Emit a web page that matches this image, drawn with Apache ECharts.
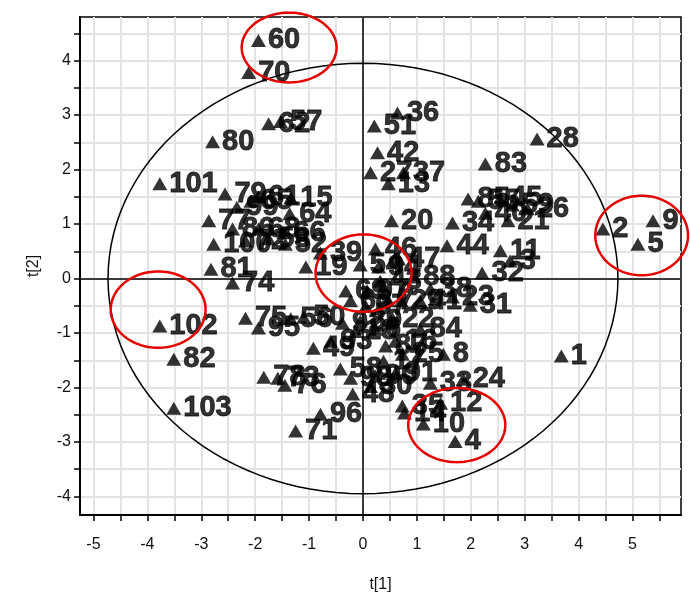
<!DOCTYPE html>
<html>
<head>
<meta charset="utf-8">
<script src="https://cdn.jsdelivr.net/npm/echarts@6/dist/echarts.min.js"></script>
<style>
  html, body { margin: 0; padding: 0; background: #fff; }
  #chart { width: 690px; height: 600px; }
</style>
</head>
<body>
<div id="chart"></div>
<script>
// sample ids, t[1] and t[2] scores (1..103)
const ids = [
  '1','2','3','4','5','6','7','8','9','10','11','12','13','14','15','16','17','18','19','20',
  '21','22','23','24','25','26','27','28','29','30','31','32','33','34','35','36','37','38','39','40',
  '41','42','43','44','45','46','47','48','49','50','51','52','53','54','55','56','57','58','59','60',
  '61','62','63','64','65','66','67','68','69','70','71','72','73','74','75','76','77','78','79','80',
  '81','82','83','84','85','86','87','88','89','90','91','92','93','94','95','96','97','98','99','100',
  '101','102','103'
];
const t1 = [
  3.68, 4.45, 2.73, 1.71, 5.10, 0.23, 0.47, 1.49, 5.38, 1.12,
  2.55, 1.44, 0.47, 0.77, -1.34, 0.60, 0.38, -0.14, -1.06, 0.53,
  2.69, 0.55, 1.66, 1.86, 0.73, 3.05, 0.14, 3.23, 0.71, 0.14,
  1.99, 2.21, 1.25, 1.66, 0.73, 0.64, 0.75, 1.25, -0.79, 2.27,
  1.06, 0.27, 0.32, 1.56, 2.55, 0.23, 0.66, -0.19, -0.92, -1.10,
  0.21, -1.44, -1.75, -0.05, 2.14, -1.34, -1.53, -0.42, 2.77, -1.94,
  -1.94, -1.75, -0.23, -1.36, -2.08, -1.47, 0.05, -1.94, -0.32, -2.12,
  -1.25, -2.18, -1.58, -2.42, -2.18, -1.45, -2.86, -1.84, -2.56, -2.79,
  -2.82, -3.51, 2.27, 1.06, 1.95, -2.42, 0.42, 0.94, -0.05, 0.23,
  0.60, -0.38, -0.60, 0.29, -1.94, -0.79, 0.08, -0.23, -2.34, -2.77,
  -3.77, -3.77, -3.51
];
const t2 = [
  -1.42, 0.91, 0.32, -2.99, 0.63, -0.93, -0.41, -1.39, 1.06, -2.67,
  0.51, -2.29, 1.74, -2.47, 1.48, -1.15, -1.52, -0.97, 0.21, 1.06,
  1.06, -0.74, -0.34, -1.85, -1.39, 1.28, 1.94, 2.56, -0.41, -1.98,
  -0.49, 0.10, -1.92, 1.02, -2.34, 3.04, 1.94, -0.19, 0.47, 1.20,
  -0.41, 2.31, -0.05, 0.60, 1.48, 0.54, 0.36, -2.12, -1.28, -0.71,
  2.80, 0.63, 0.73, 0.25, 1.42, -0.74, 2.88, -1.66, 1.35, 4.37,
  1.50, 2.84, -0.41, 1.19, 1.42, 0.84, -0.51, 0.91, -0.23, 3.78,
  -2.80, 0.69, -1.83, -0.08, -0.73, -1.96, 1.06, -1.81, 1.55, 2.51,
  0.17, -1.48, 2.10, -0.93, 1.46, 0.91, -1.24, 0.03, -0.78, -1.79,
  -1.74, -0.82, -1.15, 0.21, -0.91, -2.49, -0.23, -1.83, 1.31, 0.63,
  1.74, -0.87, -2.38
];

// Hotelling ellipse half axes
const ellipseAB = [4.73, 3.95];
// red marks: centre x, centre y, radius x, radius y (data units)
const redRings = [
  [-1.37, 4.24, 0.88, 0.64],
  [-3.80, -0.57, 0.88, 0.70],
  [0.01, 0.10, 0.89, 0.71],
  [5.17, 0.79, 0.86, 0.73],
  [1.74, -2.69, 0.90, 0.68]
];

// axis ticks / labels
const xMin = -5.25, xMax = 5.9, yMin = -4.34, yMax = 4.8;
const xTicks = [-5, -4.5, -4, -3.5, -3, -2.5, -2, -1.5, -1, -0.5, 0, 0.5, 1, 1.5, 2, 2.5, 3, 3.5, 4, 4.5, 5, 5.5];
const xLabels = [-5, -4, -3, -2, -1, 0, 1, 2, 3, 4, 5];
const yTicks = [-4, -3.5, -3, -2.5, -2, -1.5, -1, -0.5, 0, 0.5, 1, 1.5, 2, 2.5, 3, 3.5, 4, 4.5];
const yLabels = [-4, -3, -2, -1, 0, 1, 2, 3, 4];

const FONT = 'Liberation Sans, Arial, Helvetica, sans-serif';
const chart = echarts.init(document.getElementById('chart'));

const points = ids.map((id, i) => [t1[i], t2[i], id]);

function ringPath(api, cx, cy, rx, ry) {
  const pts = [];
  for (let k = 0; k <= 120; k++) {
    const a = (k / 120) * Math.PI * 2;
    pts.push(api.coord([cx + rx * Math.cos(a), cy + ry * Math.sin(a)]));
  }
  return pts;
}

const axisCommon = {
  axisLine: { show: true, onZero: false, lineStyle: { color: '#000', width: 2 } },
  splitLine: { show: false },
  nameTextStyle: { fontFamily: FONT, fontSize: 16, color: '#111' }
};

const option = {
  animation: false,
  backgroundColor: '#fff',
  grid: {
    left: 80, right: 9, top: 17, bottom: 85,
    show: true, borderColor: '#000', borderWidth: 1.5, backgroundColor: 'transparent'
  },
  xAxis: Object.assign({}, axisCommon, {
    type: 'value', min: xMin, max: xMax,
    name: 't[1]', nameLocation: 'middle', nameGap: 62,
    axisTick: { show: true, customValues: xTicks, length: 6, lineStyle: { color: '#000', width: 1.5 } },
    axisLabel: { customValues: xLabels, margin: 22, fontFamily: FONT, fontSize: 16, color: '#111' }
  }),
  yAxis: Object.assign({}, axisCommon, {
    type: 'value', min: yMin, max: yMax,
    name: 't[2]', nameLocation: 'middle', nameGap: 38,
    axisTick: { show: true, customValues: yTicks, length: 6, lineStyle: { color: '#000', width: 1.5 } },
    axisLabel: { customValues: yLabels, margin: 9, fontFamily: FONT, fontSize: 16, color: '#111' }
  }),
  series: [
    {
      // light grid every half unit
      type: 'scatter', data: [], z: 0, silent: true,
      markLine: {
        z: 0, silent: true, symbol: 'none', animation: false,
        label: { show: false },
        lineStyle: { color: '#e3e3e3', width: 2, type: 'solid' },
        data: xTicks.map(v => ({ xAxis: v })).concat(yTicks.map(v => ({ yAxis: v })))
      }
    },
    {
      // zero lines
      type: 'scatter', data: [], z: 1, silent: true,
      markLine: {
        z: 1, silent: true, symbol: 'none', animation: false,
        label: { show: false },
        lineStyle: { color: '#000', width: 1.5, type: 'solid' },
        data: [{ xAxis: 0 }, { yAxis: 0 }]
      }
    },
    {
      type: 'custom', z: 2, silent: true,
      data: [ellipseAB],
      renderItem: function (params, api) {
        return {
          type: 'polyline',
          shape: { points: ringPath(api, 0, 0, api.value(0), api.value(1)) },
          style: { fill: 'none', stroke: '#000', lineWidth: 1.5 }
        };
      }
    },
    {
      type: 'scatter', z: 5,
      data: points,
      symbol: 'triangle',
      symbolSize: [15, 13],
      itemStyle: { color: '#000' },
      label: {
        show: true, position: 'right', distance: 2,
        formatter: p => p.data[2],
        fontFamily: FONT, fontSize: 29, fontWeight: 'bold', color: '#000',
        textBorderColor: '#000', textBorderWidth: 0.8,
        offset: [0, 2]
      },
      labelLayout: { hideOverlap: false }
    },
    {
      type: 'custom', z: 10, silent: true, clip: false,
      data: redRings,
      encode: { x: 0, y: 1 },
      renderItem: function (params, api) {
        return {
          type: 'polyline',
          shape: { points: ringPath(api, api.value(0), api.value(1), api.value(2), api.value(3)) },
          style: { fill: 'none', stroke: '#e60000', lineWidth: 2.5 }
        };
      }
    }
  ]
};

chart.setOption(option);
</script>
</body>
</html>
